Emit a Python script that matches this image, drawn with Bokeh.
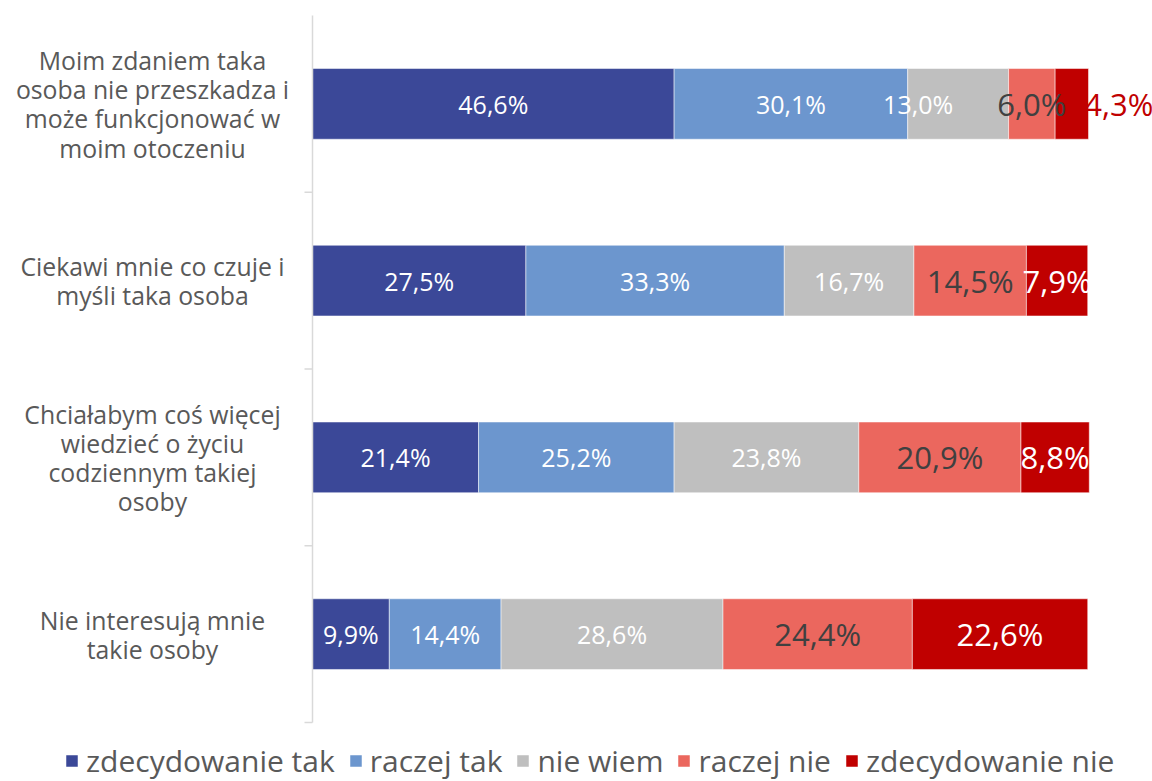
from bokeh.plotting import figure
from bokeh.models import ColumnDataSource, Range1d
from bokeh.core.properties import value
from bokeh.embed import file_html
from bokeh.resources import INLINE

categories = [
    "Moim zdaniem taka\nosoba nie przeszkadza i\nmoże funkcjonować w\nmoim otoczeniu",
    "Ciekawi mnie co czuje i\nmyśli taka osoba",
    "Chciałabym coś więcej\nwiedzieć o życiu\ncodziennym takiej\nosoby",
    "Nie interesują mnie\ntakie osoby",
]
series = ["zdecydowanie tak", "raczej tak", "nie wiem", "raczej nie", "zdecydowanie nie"]
zdecydowanie_tak = [46.6, 27.5, 21.4, 9.9]
raczej_tak = [30.1, 33.3, 25.2, 14.4]
nie_wiem = [13.0, 16.7, 23.8, 28.6]
raczej_nie = [6.0, 14.5, 20.9, 24.4]
zdecydowanie_nie = [4.3, 7.9, 8.8, 22.6]
values = [zdecydowanie_tak, raczej_tak, nie_wiem, raczej_nie, zdecydowanie_nie]

colors = ["#3B4898", "#6C96CE", "#BFBFBF", "#EB675E", "#C00000"]
FONT = "Open Sans"

W, H = 1152, 781
AX_X = 312          # axis position (px from left)
PLOT_W = 776        # px for 0..100
TOP, PLOT_H = 15, 707
k = 100.0 / PLOT_W
n = len(categories)
unit = PLOT_H / n

p = figure(width=W, height=H, output_backend="svg", toolbar_location=None,
           x_range=Range1d(-AX_X * k, 100 + (W - AX_X - PLOT_W) * k),
           y_range=Range1d(-(H - TOP - PLOT_H) / unit, n + TOP / unit),
           min_border_left=0, min_border_right=0, min_border_top=0, min_border_bottom=0)
p.xaxis.visible = False
p.yaxis.visible = False
p.grid.visible = False
p.outline_line_color = None

ys = [n - i - 0.5 for i in range(n)]
data = {"y": ys}
for name, vals in zip(series, values):
    data[name] = vals
src = ColumnDataSource(data)

rs = p.hbar_stack(series, y="y", height=0.4, color=colors, source=src,
                  line_color="white", line_width=0.5,
                  legend_label=series)

# axis line + ticks
p.segment(x0=[0], x1=[0], y0=[0], y1=[n], line_color="#D9D9D9", line_width=1.5)
p.segment(x0=[-8 * k] * n, x1=[0] * n, y0=list(range(n)), y1=list(range(n)),
          line_color="#D9D9D9", line_width=1.5)

# category labels
p.text(x=[0] * n, y=ys, text=categories, x_offset=-160, text_align="center",
       text_baseline="middle", text_font=value(FONT), text_font_size="24.8px",
       text_color="#595959", text_line_height=0.86)

# data labels
lx, ly, lt, lc, ls, lo = [], [], [], [], [], []
small, large = "25px", "31px"
for i in range(n):
    cum = 0.0
    for j, vals in enumerate(values):
        v = vals[i]
        lx.append(cum + v / 2)
        cum += v
        ly.append(ys[i])
        lt.append(f"{v:.1f}%".replace(".", ","))
        if j < 3:
            lc.append("white"); ls.append(small)
        elif j == 3:
            lc.append("#404040"); ls.append(large)
        else:
            lc.append("#C00000" if i == 0 else "white"); ls.append(large)
        off = 0
        if i == 0 and j == 2:
            off = -40
        if i == 0 and j == 4:
            off = 47
        lo.append(off)
lsrc = ColumnDataSource(dict(x=lx, y=ly, text=lt, color=lc, size=ls, off=lo))
p.text(x="x", y="y", text="text", source=lsrc, x_offset="off", text_color="color",
       text_font_size="size", text_font=value(FONT), text_align="center",
       text_baseline="middle")

lg = p.legend[0]
lg.orientation = "horizontal"
lg.location = (64, 0)
lg.padding = 0
lg.margin = 0
lg.spacing = 13
lg.glyph_width = 15
lg.glyph_height = 15
lg.label_standoff = 7
lg.label_text_font = FONT
lg.label_text_font_size = "30px"
lg.label_text_color = "#595959"
lg.border_line_color = None
lg.background_fill_alpha = 0

open("out.html", "w").write(file_html(p, INLINE))
